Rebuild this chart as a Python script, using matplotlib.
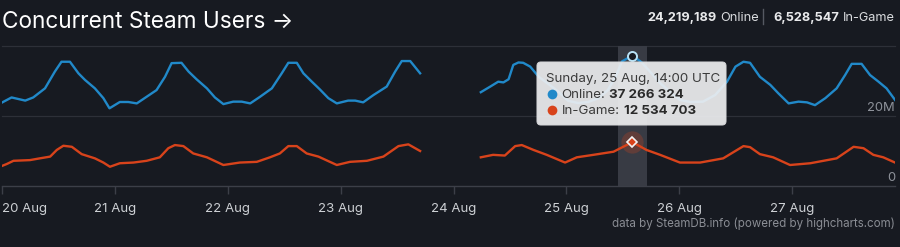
import numpy as np
import matplotlib
matplotlib.use("Agg")
import matplotlib.pyplot as plt
from matplotlib.patches import FancyBboxPatch
from matplotlib.transforms import Affine2D
from matplotlib.lines import Line2D
from matplotlib.text import Annotation

# ---------------- data (hours since 20 Aug 2024 00:00 UTC, values in millions) ----------------
online_hours = [0, 2.1, 5.0, 6.7, 9.2, 11.3, 12.7, 14.5, 16.3, 17.7, 19.8, 21.6, 22.9,
                25.1, 26.9, 28.7, 30.8, 32.9, 34.7, 36.1, 38.2, 39.7, 41.4, 43.6, 45.3, 47.1,
                49.2, 51.0, 52.8, 54.9, 57.4, 59.5, 60.9, 62.7, 64.1, 65.9, 67.6, 69.4, 71.2,
                73.6, 75.1, 76.8, 79.0, 81.8, 83.6, 85.0, 86.8, 88.9,
                95.0,
                101.8, 103.8, 105.5, 106.6, 107.7, 108.7, 109.8, 110.8, 112.3, 114.1, 116.2,
                118.3, 120.4, 122.5, 124.6, 126.8, 128.8, 130.5, 131.8, 134.0, 135.9, 137.8,
                139.9, 142.0, 144.1, 146.3, 149.0, 151.6, 154.1, 155.9, 157.6, 159.0, 161.1,
                163.3, 165.0, 167.2, 169.3, 171.1, 172.8, 175.0, 177.4, 179.2, 180.6, 182.7,
                184.5, 186.3, 188.0, 189.8]
online_millions = [23.8, 25.3, 24.4, 25.3, 27.9, 32.7, 35.5, 35.5, 32.2, 30.3, 27.9, 25.1, 22.2,
                   24.0, 24.0, 23.6, 25.5, 27.4, 31.2, 35.1, 35.2, 32.7, 30.5, 27.9, 25.3, 23.4,
                   24.1, 24.1, 23.6, 25.5, 27.9, 32.2, 35.2, 35.2, 32.2, 29.8, 27.6, 25.1, 23.6,
                   24.4, 24.4, 23.9, 26.0, 28.4, 32.7, 35.7, 35.7, 32.2,
                   np.nan,
                   26.8, 28.4, 29.8, 29.6, 30.5, 34.6, 35.3, 35.2, 34.1, 31.2, 29.1,
                   26.9, 24.3, 23.7, 24.0, 25.1, 27.4, 31.4, 35.6, 37.266324, 35.4, 32.6,
                   29.4, 26.9, 24.6, 24.0, 24.1, 26.0, 29.8, 34.1, 35.5, 35.2, 31.2,
                   28.9, 26.5, 23.6, 24.1, 23.9, 23.1, 25.1, 27.9, 31.7, 34.9, 34.9,
                   31.7, 29.8, 27.9, 24.6]

ingame_hours = [0, 1.1, 2.5, 6.0, 8.1, 10.3, 11.7, 13.1, 14.9, 17.0, 19.8, 21.6, 23.0,
                25.1, 28.0, 30.8, 33.6, 35.4, 36.8, 38.6, 40.7, 43.6, 47.1, 50.6, 54.2,
                57.0, 59.1, 60.9, 62.7, 64.8, 67.3, 71.2, 74.0, 77.6, 81.1, 84.3, 86.4, 88.9,
                95.0,
                101.8, 104.4, 106.9, 109.1, 110.5, 113.0, 115.8, 119.7, 122.2, 125.7, 130.0,
                134.0, 137.0, 139.9, 144.1, 148.4, 153.3, 157.6, 159.0, 161.1, 163.9, 167.5,
                171.8, 177.4, 181.0, 183.1, 185.2, 187.3, 189.8]
ingame_millions = [5.7, 6.3, 7.2, 7.4, 7.9, 8.4, 10.3, 11.5, 11.2, 9.1, 7.9, 6.7, 5.5,
                   6.5, 6.7, 7.2, 8.2, 10.8, 11.7, 11.4, 9.3, 8.2, 6.0, 6.7, 6.9,
                   8.2, 9.3, 11.4, 11.4, 9.3, 8.4, 6.0, 6.9, 7.2, 8.4, 11.4, 11.9, 10.0,
                   np.nan,
                   8.2, 8.9, 8.7, 11.4, 11.7, 10.3, 8.9, 6.7, 8.2, 8.9, 9.8,
                   12.534703, 10.3, 8.9, 6.7, 6.7, 7.9, 11.4, 11.1, 9.1, 8.2, 6.0,
                   6.5, 7.9, 11.2, 10.8, 8.9, 8.2, 6.7]

day_labels = ["20 Aug", "21 Aug", "22 Aug", "23 Aug", "24 Aug", "25 Aug", "26 Aug", "27 Aug"]
y_tick_values = [20, 0]
y_tick_labels = ["20M", "0"]

hover_hour = 134.0
hover_online = 37.266324
hover_ingame = 12.534703
hover_label = "Sunday, 25 Aug, 14:00 UTC"
hover_online_text = "37 266 324"
hover_ingame_text = "12 534 703"
current_online = "24,219,189"
current_ingame = "6,528,547"

# ---------------- style ----------------
W, H = 900, 247
BG = "#171a21"
GRID = "#2d3038"
AXIS = "#3c3f48"
BLUE = "#2189c9"
RED = "#d8431b"
FONT = ["Inter", "DejaVu Sans"]
plt.rcParams["font.family"] = FONT

fig = plt.figure(figsize=(W / 100, H / 100), dpi=100, facecolor=BG)
PX = Affine2D().scale(1 / W, 1 / H) + fig.transFigure  # pixel coords, origin bottom-left


def fy(y):
    return H - y


def chain(text, prev, yb, dx, ha, **kw):
    a = Annotation(text, xy=(0 if ha == "right" else 1, yb), xycoords=(prev, PX),
                   xytext=(dx, 0), textcoords="offset pixels", ha=ha, va="baseline",
                   annotation_clip=False, **kw)
    fig.add_artist(a)
    return a


x_left, x_right, y_zero, y_top = 1.7, 895.0, 186.0, 46.0
ax = fig.add_axes([x_left / W, (H - y_zero) / H, (x_right - x_left) / W, (y_zero - y_top) / H])
ax.set_facecolor(BG)
ax.set_xlim(0, 189.8)
ax.set_ylim(0, 40)
for s in ax.spines.values():
    s.set_visible(False)

# grid lines and axis line
for v in (20, 40):
    ax.axhline(v, color=GRID, lw=0.9, zorder=1, clip_on=False)
ax.axhline(0, color=AXIS, lw=1.0, zorder=1, clip_on=False)

# crosshair band
ax.axvspan(hover_hour - 3.07, hover_hour + 3.07, color="#383b44", lw=0, zorder=1.5)

ax.plot(online_hours, online_millions, color=BLUE, lw=1.7, zorder=3, solid_joinstyle="round")
ax.plot(ingame_hours, ingame_millions, color=RED, lw=1.7, zorder=3, solid_joinstyle="round")

# hover markers
ax.plot([hover_hour], [hover_ingame], "o", ms=16, color=RED, alpha=0.25, mec="none", zorder=4)
ax.plot([hover_hour], [hover_online], "o", ms=6.5, mfc=BG, mec="#b8e2f6", mew=1.4, zorder=5)
ax.plot([hover_hour], [hover_ingame], "D", ms=5.5, mfc=RED, mec="#f2f2f2", mew=1.2, zorder=5)

# x ticks
day_pos = [24 * i for i in range(len(day_labels))]
ax.set_xticks(day_pos)
ax.set_xticklabels(day_labels)
ax.set_yticks([])
ax.tick_params(axis="x", length=6, width=1, color=AXIS, pad=6, labelsize=9.5,
               labelcolor="#cdd0d4")
labs = ax.get_xticklabels()
labs[0].set_ha("left")

# y labels (right, just above lines)
for v, t in zip(y_tick_values, y_tick_labels):
    ax.annotate(t, xy=(1, v), xycoords=("axes fraction", "data"), xytext=(0, 2),
                textcoords="offset pixels", ha="right", va="bottom", fontsize=9.3,
                color="#8e929a", zorder=6)

# title
fig.text(2 / W, fy(28.3) / H, "Concurrent Steam Users \u2192", color="#ffffff",
         fontsize=16.3, ha="left", va="baseline")

# top-right stats (right to left)
yb = fy(20.7)
t1 = fig.text(895 / W, yb / H, "In-Game", color="#d9dbde", fontsize=9.2, ha="right",
              va="baseline")
t2 = chain(current_ingame, t1, yb, -4, "right", fontsize=9.2, fontweight="bold",
           color="#e8e9eb")
t3 = chain("Online", t2, yb, -14, "right", fontsize=9.2, color="#d9dbde")
t4 = chain(current_online, t3, yb, -4, "right", fontsize=9.2, fontweight="bold",
           color="#e8e9eb")
fig.add_artist(Line2D([763, 763], [fy(9), fy(24)], transform=PX, color="#555962", lw=1))

# tooltip
box = FancyBboxPatch((537, fy(125)), 189, 63, boxstyle="round,pad=0,rounding_size=4",
                     transform=PX, facecolor="#eeeff1", edgecolor="#d8d9db", lw=0.8,
                     alpha=0.92, zorder=10)
fig.add_artist(box)
fig.text(546 / W, fy(82) / H, hover_label, color="#3a3a3a", fontsize=9.6, ha="left",
         va="baseline", zorder=11)
for yy, col, name, val in [(98.3, BLUE, "Online:", hover_online_text),
                           (114.0, RED, "In-Game:", hover_ingame_text)]:
    fig.add_artist(Line2D([551.7], [fy(yy - 4)], transform=PX, marker="o", ms=7,
                          color=col, mec="none", zorder=11))
    a = fig.text(561.7 / W, fy(yy) / H, name, color="#3a3a3a", fontsize=9.6,
                 ha="left", va="baseline", zorder=11)
    chain(val, a, fy(yy), 4, "left", fontsize=9.6, fontweight="bold", color="#2a2a2a",
          zorder=11)

# credits
fig.text(895 / W, fy(226.7) / H, "data by SteamDB.info (powered by highcharts.com)",
         color="#8a8d94", fontsize=8.3, ha="right", va="baseline")

fig.savefig("out.png", dpi=100, facecolor=BG)
